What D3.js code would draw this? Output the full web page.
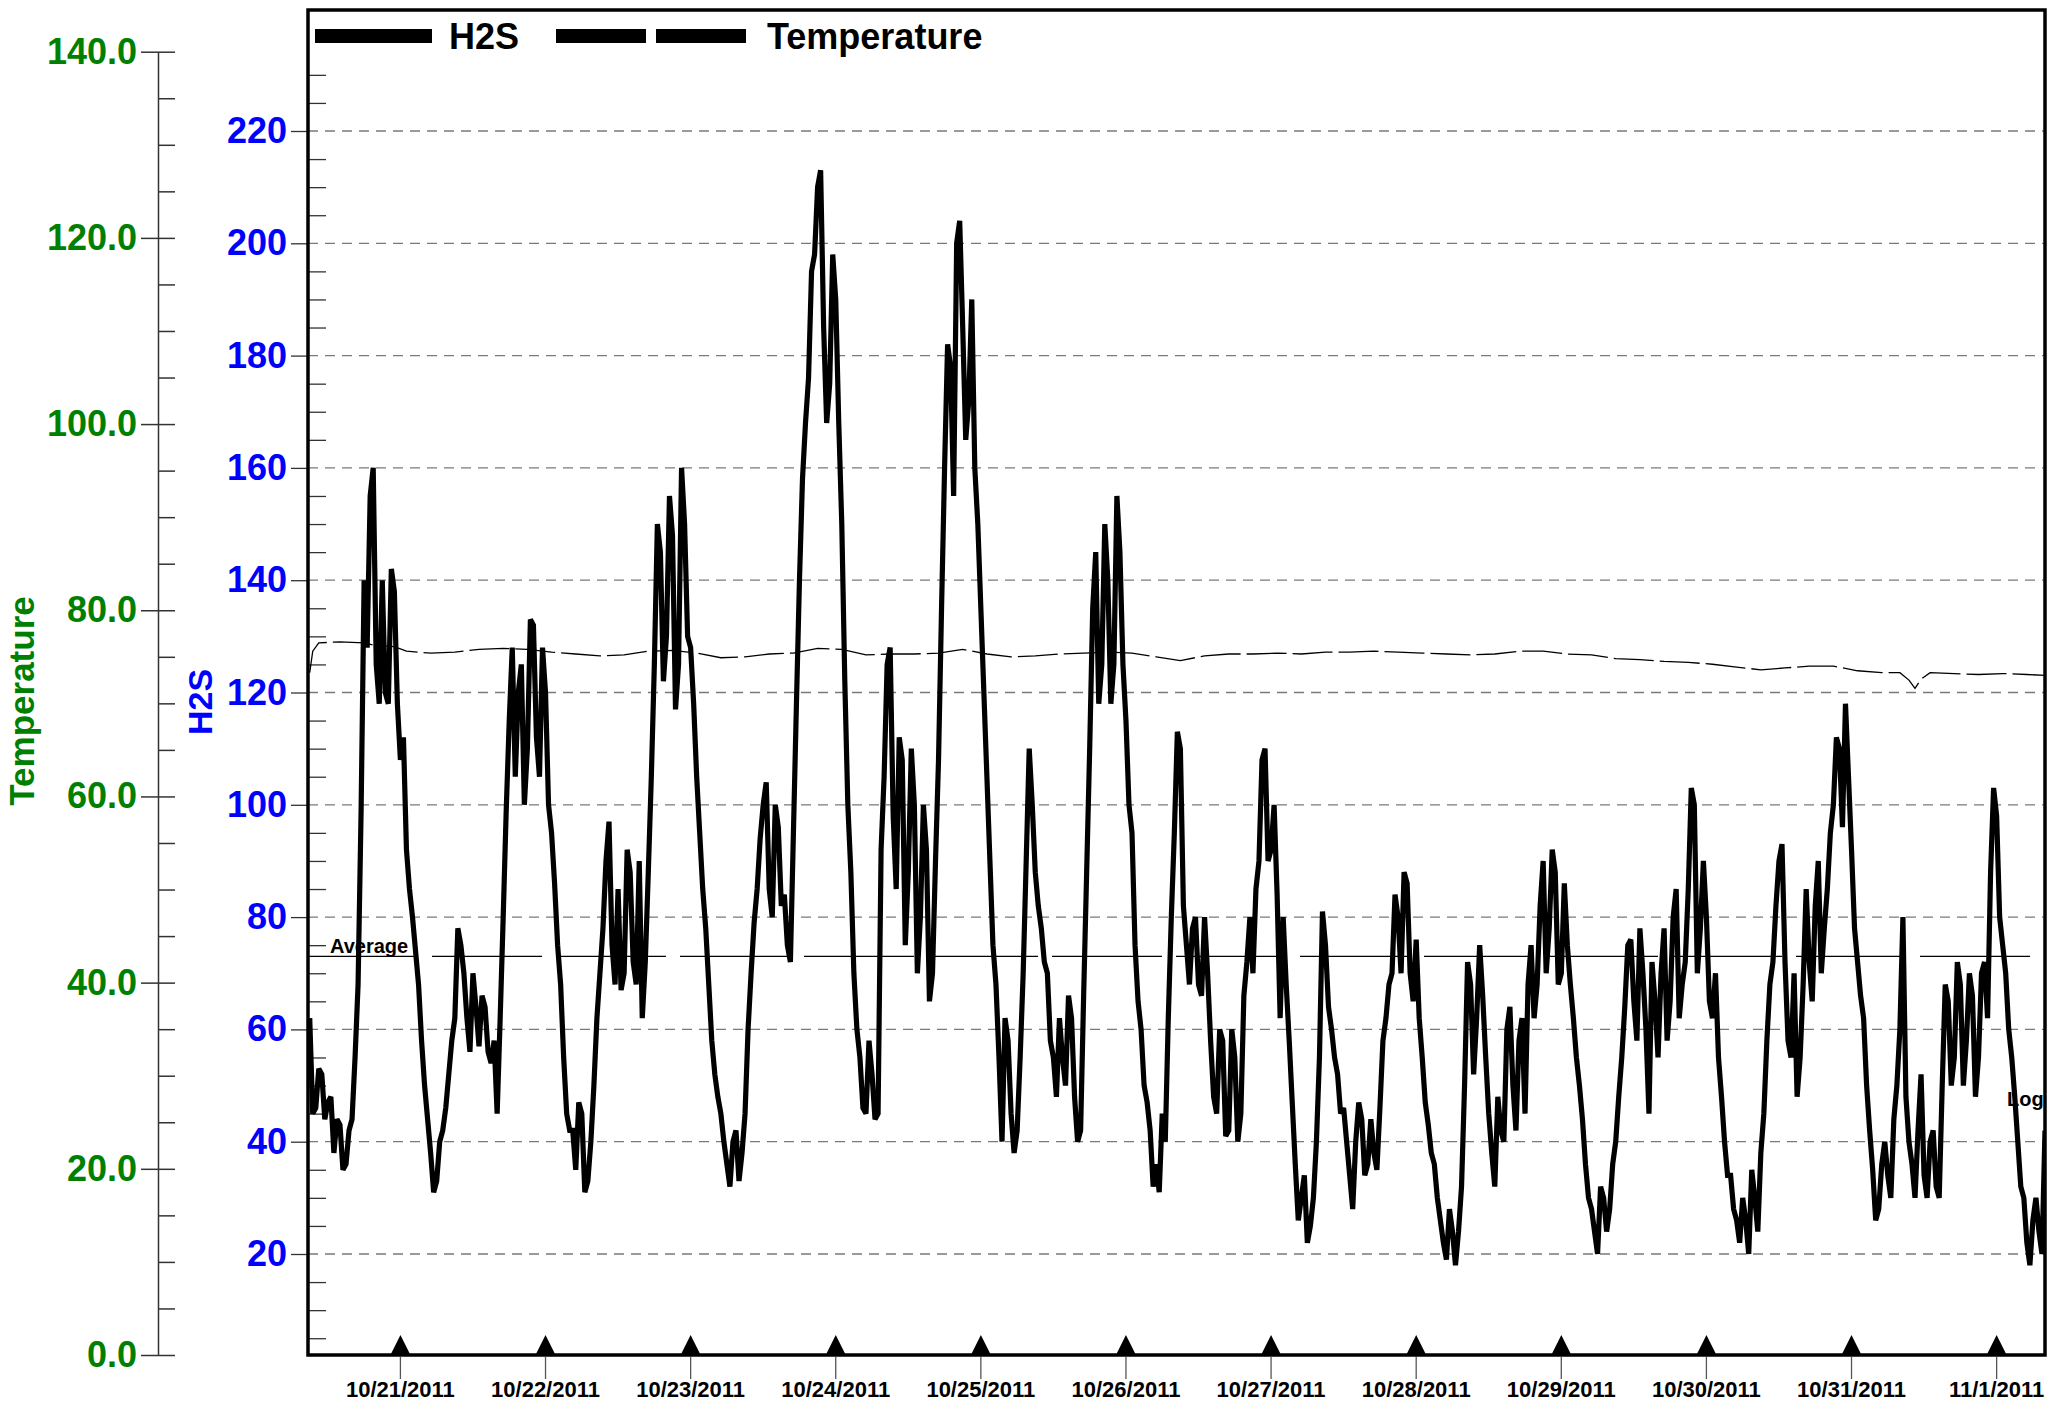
<!DOCTYPE html>
<html><head><meta charset="utf-8">
<script src="https://cdn.jsdelivr.net/npm/d3@7/dist/d3.min.js"></script>
<style>
body{margin:0;background:#fff}
svg{display:block}
text{font-family:"Liberation Sans",Arial,Helvetica,sans-serif;font-weight:bold}
</style>
</head><body>
<svg id="chart" width="2067" height="1403"></svg>
<script>
// ---------------- DATA ----------------
// H2S readings every 30 minutes, starting 10/20/2011 09:00 (one row = 12 hours)
const h2sStart = new Date(2011, 9, 20, 9, 0);
const h2sStepMinutes = 30;
const h2sValues = [
 62,45,46,53,52,44,47,48,38,44,43,35,36,42,44,55,68,99,140,128,155,160,125,118,
 140,120,118,142,138,118,108,112,92,85,80,74,68,58,50,44,38,31,33,40,42,46,52,58,
 62,78,75,70,62,56,70,64,57,66,64,56,54,58,45,62,80,99,115,128,105,120,125,100,
 110,133,132,112,105,128,120,100,95,86,75,68,55,45,42,42,35,47,45,31,33,40,50,62,
 70,78,90,97,75,68,85,67,70,92,88,72,68,90,62,72,88,105,125,150,145,122,130,155,
 148,117,125,160,150,130,128,118,105,95,85,78,68,58,52,48,45,40,36,32,40,42,33,38,
 45,60,70,79,85,94,100,104,85,80,100,96,82,84,75,72,95,118,140,158,168,176,195,198,
 210,213,185,168,175,198,190,168,150,122,100,88,70,60,55,46,45,58,52,44,45,92,105,125,
 128,98,85,112,108,75,88,110,100,70,80,100,92,65,70,90,108,135,160,182,178,155,200,204,
 185,165,172,190,160,150,135,120,105,90,75,68,55,40,62,58,45,38,42,55,70,90,110,100,
 88,82,78,72,70,58,55,48,62,55,50,66,62,48,40,42,66,88,110,135,145,118,125,150,
 140,118,125,155,145,125,115,100,95,75,65,60,50,47,42,32,36,31,45,40,62,80,95,113,
 110,82,75,68,78,80,68,66,80,70,58,48,45,60,58,41,42,60,55,40,45,66,72,80,
 70,85,90,108,110,90,92,100,84,62,80,68,58,47,36,26,30,34,22,25,30,40,55,81,
 75,64,60,55,52,45,46,40,34,28,40,47,44,34,36,44,38,35,46,58,62,68,70,84,
 80,70,88,86,70,65,76,62,55,47,43,38,36,30,26,22,19,28,24,18,24,32,50,72,
 68,52,62,75,66,55,45,38,32,48,42,40,60,64,50,42,58,62,45,68,75,62,68,82,
 90,70,78,92,88,68,70,86,75,68,62,55,50,44,36,30,28,24,20,32,30,24,28,36,
 40,48,55,64,75,76,65,58,78,70,60,45,72,65,55,70,78,58,65,80,85,62,68,72,
 85,103,100,70,78,90,80,65,62,70,55,48,40,34,34,28,26,22,30,26,20,35,30,24,
 38,45,58,68,72,82,90,93,72,58,55,70,48,55,68,85,72,65,82,90,70,78,85,95,
 100,112,110,96,118,105,92,78,72,66,62,50,42,35,26,28,36,40,34,30,44,50,60,80,
 48,40,36,30,42,52,34,30,40,42,32,30,50,68,65,50,55,72,68,50,58,70,66,48,
 55,70,72,62,88,103,98,80,75,70,60,55,48,40,32,30,22,18,26,30,24,20,42
];
// Temperature readings: hours after 10/20/2011 09:00 and values
const tempHours = [0,0.5,1.5,5,9,11,14,16,20,24,28,32,36,40,44,48,52,56,60,64,68,72,76,80,84,88,92,96,100,104,108,112,116,120,124,128,132,136,140,144,148,152,156,160,164,168,172,176,180,184,188,192,196,200,204,208,212,216,220,224,228,232,236,240,244,248,252,256,260,263,264.5,265.5,266.5,268,272,276,280,284,287];
const tempValues = [73.3,75.6,76.5,76.6,76.5,76.2,76.1,75.6,75.4,75.5,75.8,75.9,75.8,75.5,75.3,75.1,75.2,75.6,75.7,75.4,74.9,75.0,75.3,75.4,75.9,75.8,75.2,75.3,75.3,75.4,75.8,75.3,75.0,75.1,75.3,75.4,75.5,75.4,75.0,74.6,75.1,75.3,75.3,75.4,75.3,75.5,75.5,75.6,75.5,75.4,75.3,75.2,75.3,75.6,75.6,75.3,75.2,74.8,74.7,74.5,74.4,74.2,73.9,73.6,73.8,74.0,74.0,73.5,73.3,73.3,72.5,71.6,72.6,73.3,73.2,73.1,73.2,73.1,73.0];
const h2sAverage = 73;
const h2sTicks = [20,40,60,80,100,120,140,160,180,200,220];
const tempTicks = [0,20,40,60,80,100,120,140];
const dateTicks = [[2011,9,21],[2011,9,22],[2011,9,23],[2011,9,24],[2011,9,25],[2011,9,26],[2011,9,27],[2011,9,28],[2011,9,29],[2011,9,30],[2011,9,31],[2011,10,1]];
const legendLabels = ["H2S","Temperature"];

// ---------------- LAYOUT ----------------
const svg = d3.select("#chart");
const L = 308, R = 2045, T = 10, B = 1355;
const HOUR = 3600e3, MIN = 60e3;

const x = d3.scaleTime()
  .domain([new Date(2011, 9, 20, 8, 43), new Date(2011, 10, 1, 8, 0)])
  .range([L, R]);
const yH = d3.scaleLinear().domain([20, 220]).range([1254, 131]);
const yT = d3.scaleLinear().domain([0, 140]).range([B, 51.7]);

const green = "#008000", blue = "#0000ff";

svg.append("defs").append("clipPath").attr("id", "plotclip")
  .append("rect").attr("x", L).attr("y", T).attr("width", R - L).attr("height", B - T);

// gridlines
svg.append("g").selectAll("line").data(h2sTicks).join("line")
  .attr("x1", L).attr("x2", R)
  .attr("y1", d => yH(d)).attr("y2", d => yH(d))
  .attr("stroke", "#7a7a7a").attr("stroke-width", 1.3).attr("stroke-dasharray", "10,7");

// minor ticks inside plot (H2S)
const minorH = d3.range(5, 231, 5).filter(v => v % 20 !== 0);
svg.append("g").attr("transform", `translate(${L},0)`)
  .call(d3.axisRight(yH).tickValues(minorH).tickFormat("").tickSize(18).tickSizeOuter(0))
  .call(g => g.select(".domain").remove())
  .call(g => g.selectAll("line").attr("stroke", "#333").attr("stroke-width", 1.3));

// H2S axis (left of frame)
svg.append("g").attr("transform", `translate(${L},0)`)
  .call(d3.axisLeft(yH).tickValues(h2sTicks).tickFormat(d3.format("d")).tickSize(17).tickPadding(4).tickSizeOuter(0))
  .call(g => g.select(".domain").remove())
  .call(g => g.selectAll("line").attr("stroke", "#333").attr("stroke-width", 1.3))
  .call(g => g.selectAll("text").attr("fill", blue).attr("font-size", 36)
      .attr("font-family", "Liberation Sans, Arial, sans-serif").attr("font-weight", "bold"));

// Temperature axis
const TX = 158;
svg.append("g").attr("transform", `translate(${TX},0)`)
  .call(d3.axisLeft(yT).tickValues(tempTicks).tickFormat(d3.format(".1f")).tickSize(17).tickPadding(4).tickSizeOuter(0))
  .call(g => g.select(".domain").attr("stroke", "#333").attr("stroke-width", 1.5))
  .call(g => g.selectAll("line").attr("stroke", "#333").attr("stroke-width", 1.5))
  .call(g => g.selectAll("text").attr("fill", green).attr("font-size", 36)
      .attr("font-family", "Liberation Sans, Arial, sans-serif").attr("font-weight", "bold"));
svg.append("g").attr("transform", `translate(${TX},0)`)
  .call(d3.axisRight(yT).tickValues(d3.range(0, 141, 5)).tickFormat("").tickSize(17).tickSizeOuter(0))
  .call(g => g.select(".domain").remove())
  .call(g => g.selectAll("line").attr("stroke", "#333").attr("stroke-width", 1.5));

// axis titles
svg.append("text").attr("transform", `translate(34,701) rotate(-90)`)
  .attr("text-anchor", "middle").attr("font-size", 35).attr("fill", green).text("Temperature");
svg.append("text").attr("transform", `translate(212,702) rotate(-90)`)
  .attr("text-anchor", "middle").attr("font-size", 34).attr("fill", blue).text("H2S");

// plot content
const plot = svg.append("g").attr("clip-path", "url(#plotclip)");

// average line
plot.append("line").attr("x1", L).attr("x2", R)
  .attr("y1", yH(h2sAverage)).attr("y2", yH(h2sAverage))
  .attr("stroke", "#000").attr("stroke-width", 1.2).attr("stroke-dasharray", "110,14");
plot.append("text").attr("x", 330).attr("y", yH(h2sAverage) - 3)
  .attr("font-size", 20).attr("fill", "#000").text("Average");

// temperature line
const tempData = tempHours.map((h, i) => ({t: new Date(+h2sStart + h * HOUR), v: tempValues[i]}));
plot.append("path").datum(tempData)
  .attr("fill", "none").attr("stroke", "#000").attr("stroke-width", 1.3)
  .attr("stroke-dasharray", "40,6")
  .attr("d", d3.line().x(d => x(d.t)).y(d => yT(d.v)));

// H2S line
const h2sData = h2sValues.map((v, i) => ({t: new Date(+h2sStart + i * h2sStepMinutes * MIN), v}));
plot.append("path").datum(h2sData)
  .attr("fill", "none").attr("stroke", "#000").attr("stroke-width", 5.2)
  .attr("stroke-linejoin", "miter").attr("stroke-miterlimit", 2.5)
  .attr("d", d3.line().x(d => x(d.t)).y(d => yH(d.v)));

// Log label (clipped at right edge)
plot.append("text").attr("x", 2007).attr("y", 1106).attr("font-size", 20).attr("fill", "#000").text("Log");

// frame
svg.append("rect").attr("x", L).attr("y", T).attr("width", R - L).attr("height", B - T)
  .attr("fill", "none").attr("stroke", "#000").attr("stroke-width", 3.5);

// date ticks: triangles + ticks + labels
const dates = dateTicks.map(d => new Date(d[0], d[1], d[2]));
const fmt = d3.timeFormat("%-m/%-d/%Y");
const xg = svg.append("g");
xg.selectAll("path").data(dates).join("path")
  .attr("d", d => { const px = x(d); return `M${px - 10},${B} L${px},${B - 20} L${px + 10},${B} Z`; })
  .attr("fill", "#000");
xg.selectAll("line").data(dates).join("line")
  .attr("x1", d => x(d)).attr("x2", d => x(d)).attr("y1", B + 2).attr("y2", B + 24)
  .attr("stroke", "#555").attr("stroke-width", 1.3);
xg.selectAll("text").data(dates).join("text")
  .attr("x", d => x(d)).attr("y", 1397).attr("text-anchor", "middle")
  .attr("font-size", 22).attr("fill", "#000").text(d => fmt(d));

// legend
const lg = svg.append("g");
lg.append("line").attr("x1", 315).attr("x2", 432).attr("y1", 36).attr("y2", 36)
  .attr("stroke", "#000").attr("stroke-width", 14);
lg.append("text").attr("x", 449).attr("y", 49).attr("font-size", 36).text(legendLabels[0]);
lg.append("line").attr("x1", 556).attr("x2", 748).attr("y1", 36).attr("y2", 36)
  .attr("stroke", "#000").attr("stroke-width", 14).attr("stroke-dasharray", "90,10");
lg.append("text").attr("x", 767).attr("y", 49).attr("font-size", 36).text(legendLabels[1]);
</script>
</body></html>
